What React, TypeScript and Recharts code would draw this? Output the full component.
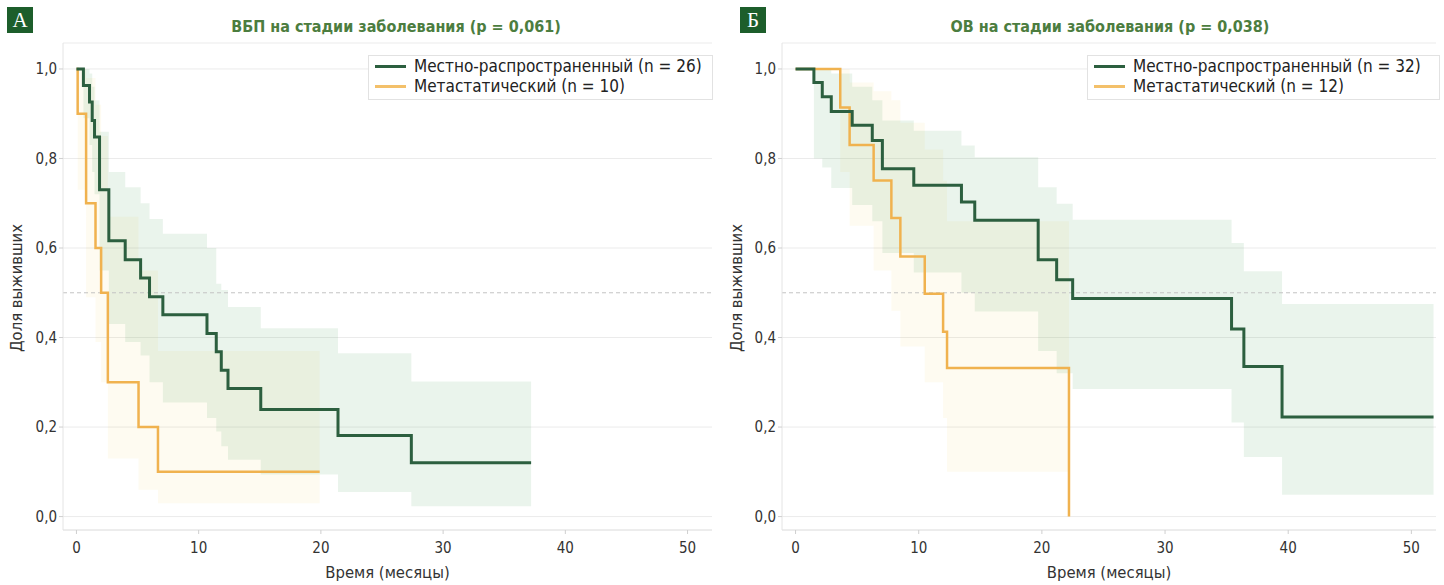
import React from 'react';
import {
  ComposedChart,
  Line,
  Area,
  XAxis,
  YAxis,
  CartesianGrid,
  ReferenceLine,
  Label,
} from 'recharts';

// ---------- Panel A: ВБП (PFS) ----------
const pfsLocTime = [0, 0.57, 1.07, 1.29, 1.48, 1.89, 2.65, 3.99, 5.25, 5.98, 7.07, 10.68, 11.44, 11.85, 12.4, 15.08, 21.4, 27.4, 37.2];
const pfsLocSurv = [1, 0.963, 0.926, 0.885, 0.848, 0.73, 0.616, 0.574, 0.533, 0.491, 0.451, 0.409, 0.368, 0.327, 0.286, 0.239, 0.181, 0.12, 0.12];
const pfsLocLow = [1, 0.89, 0.83, 0.77, 0.72, 0.55, 0.43, 0.39, 0.36, 0.3, 0.255, 0.22, 0.19, 0.157, 0.127, 0.094, 0.055, 0.023, 0.023];
const pfsLocUp = [1, 1, 0.99, 0.96, 0.93, 0.86, 0.77, 0.736, 0.7, 0.665, 0.632, 0.6, 0.52, 0.506, 0.468, 0.421, 0.365, 0.302, 0.302];

const pfsMetTime = [0, 0.1, 0.79, 1.56, 2.02, 2.57, 5.08, 6.67, 19.9];
const pfsMetSurv = [1, 0.9, 0.7, 0.6, 0.5, 0.3, 0.2, 0.1, 0.1];
const pfsMetLow = [1, 0.73, 0.49, 0.39, 0.3, 0.13, 0.06, 0.03, 0.03];
const pfsMetUp = [1, 1, 0.98, 0.92, 0.85, 0.67, 0.55, 0.37, 0.37];

// ---------- Panel Б: ОВ (OS) ----------
const osLocTime = [0, 1.49, 2.17, 2.9, 4.6, 6.23, 7.05, 9.6, 13.47, 14.55, 19.7, 21.2, 22.5, 35.4, 36.4, 39.5, 51.8];
const osLocSurv = [1, 0.97, 0.938, 0.905, 0.874, 0.84, 0.777, 0.74, 0.703, 0.662, 0.574, 0.529, 0.487, 0.419, 0.335, 0.2225, 0.2225];
const osLocLow = [1, 0.8, 0.78, 0.734, 0.696, 0.66, 0.589, 0.545, 0.5, 0.458, 0.37, 0.32, 0.285, 0.21, 0.133, 0.049, 0.049];
const osLocUp = [1, 1, 1, 0.99, 0.96, 0.93, 0.885, 0.862, 0.829, 0.803, 0.736, 0.699, 0.663, 0.611, 0.548, 0.475, 0.475];

const osMetTime = [0, 3.63, 4.39, 6.34, 7.78, 8.51, 10.49, 11.98, 12.3, 22.2];
const osMetSurv = [1, 0.914, 0.83, 0.751, 0.667, 0.581, 0.498, 0.413, 0.332, 0];
const osMetLow = [1, 0.77, 0.65, 0.55, 0.46, 0.38, 0.3, 0.22, 0.1, 0.1];
const osMetUp = [1, 1, 0.97, 0.95, 0.93, 0.88, 0.82, 0.75, 0.66, 0.66];

// ---------- Axes / labels ----------
const xTicks = [0, 10, 20, 30, 40, 50];
const yTicks = [0, 0.2, 0.4, 0.6, 0.8, 1.0];
const titleA = 'ВБП на стадии заболевания (p = 0,061)';
const titleB = 'ОВ на стадии заболевания (p = 0,038)';
const legendA = ['Местно-распространенный (n = 26)', 'Метастатический (n = 10)'];
const legendB = ['Местно-распространенный (n = 32)', 'Метастатический (n = 12)'];
const xLabel = 'Время (месяцы)';
const yLabel = 'Доля выживших';

const GREEN = '#2c5f3f';
const ORANGE = '#f0b24f';
const TITLE_GREEN = '#4c7d3f';
const BOX_GREEN = '#1d5e2b';
const FONT = "'Liberation Sans Narrow', 'DejaVu Sans Condensed', 'Roboto Condensed', sans-serif";

type Pt = { t: number; s: number; band: [number, number] };
function build(t: number[], s: number[], lo: number[], up: number[]): Pt[] {
  return t.map((x, i) => ({ t: x, s: s[i], band: [lo[i], up[i]] as [number, number] }));
}

const fmt = (v: number) => v.toFixed(1).replace('.', ',');

function LegendBox({ labels, left, width }: { labels: string[]; left: number; width: number }) {
  const colors = [GREEN, '#f3c06a'];
  return (
    <div
      style={{
        position: 'absolute',
        left,
        top: 55,
        border: '1px solid #e2e2e2',
        background: '#fff',
        width,
        height: 45,
        boxSizing: 'border-box',
        padding: '0 0 0 6px',
        fontFamily: FONT,
        fontSize: 17,
        color: '#222',
      }}
    >
      {labels.map((lab, i) => (
        <div key={lab} style={{ display: 'flex', alignItems: 'center', height: 20 }}>
          <span style={{ display: 'inline-block', width: 31, height: 3, background: colors[i], marginRight: 8 }} />
          <span style={{ lineHeight: '20px' }}>{lab}</span>
        </div>
      ))}
    </div>
  );
}

type PanelProps = {
  left: number;
  width: number;
  yAxisWidth: number;
  loc: Pt[];
  met: Pt[];
};

function Panel({ left, width, yAxisWidth, loc, met }: PanelProps) {
  return (
    <div style={{ position: 'absolute', left, top: 0 }}>
      <ComposedChart width={width} height={585} margin={{ top: 43, right: 8, bottom: 0, left: 0 }}>
        <CartesianGrid vertical={false} stroke="#ebebeb" />
        <XAxis
          type="number"
          dataKey="t"
          domain={[-1.1, 52]}
          ticks={xTicks}
          allowDataOverflow
          height={55}
          axisLine={{ stroke: '#e4e4e4' }}
          tickLine={{ stroke: '#cfcfcf' }}
          tickSize={4}
          tickMargin={8}
          tick={{ fill: '#333', fontSize: 15, fontFamily: FONT }}
        >
          <Label
            content={(p: any) => {
              const vb = p.viewBox || { x: 0, width: 0 };
              return (
                <text x={vb.x + vb.width / 2} y={578} textAnchor="middle" fill="#333" fontSize={16.5} fontFamily={FONT}>
                  {xLabel}
                </text>
              );
            }}
          />
        </XAxis>
        <YAxis
          type="number"
          domain={[-0.03, 1.058]}
          ticks={yTicks}
          allowDataOverflow
          width={yAxisWidth}
          axisLine={{ stroke: '#e4e4e4' }}
          tickLine={{ stroke: '#cfcfcf' }}
          tickSize={4}
          tickMargin={2}
          tickFormatter={fmt}
          tick={{ fill: '#333', fontSize: 15, fontFamily: FONT }}
        >
          <Label
            content={() => (
              <text
                x={22}
                y={288}
                transform="rotate(-90, 22, 288)"
                textAnchor="middle"
                fill="#333"
                fontSize={16.5}
                fontFamily={FONT}
              >
                {yLabel}
              </text>
            )}
          />
        </YAxis>
        <Area
          data={met}
          dataKey="band"
          type="stepAfter"
          stroke="none"
          fill="#f6cd4a"
          fillOpacity={0.08}
          isAnimationActive={false}
          activeDot={false}
          legendType="none"
        />
        <Area
          data={loc}
          dataKey="band"
          type="stepAfter"
          stroke="none"
          fill="#5eab70"
          fillOpacity={0.13}
          isAnimationActive={false}
          activeDot={false}
          legendType="none"
        />
        <ReferenceLine y={0.5} stroke="#c4c4c4" strokeDasharray="4 3" />
        <Line
          data={met}
          dataKey="s"
          type="stepAfter"
          stroke={ORANGE}
          strokeWidth={2.5}
          dot={false}
          activeDot={false}
          isAnimationActive={false}
        />
        <Line
          data={loc}
          dataKey="s"
          type="stepAfter"
          stroke={GREEN}
          strokeWidth={3}
          dot={false}
          activeDot={false}
          isAnimationActive={false}
        />
      </ComposedChart>
    </div>
  );
}

function Letter({ left, ch }: { left: number; ch: string }) {
  return (
    <div
      style={{
        position: 'absolute',
        left,
        top: 7,
        width: 26,
        height: 26,
        background: BOX_GREEN,
        color: '#fff',
        fontFamily: "'Liberation Serif', 'DejaVu Serif', serif",
        fontSize: 21,
        lineHeight: '26px',
        textAlign: 'center',
      }}
    >
      {ch}
    </div>
  );
}

function Title({ center, text }: { center: number; text: string }) {
  return (
    <div
      style={{
        position: 'absolute',
        left: center - 250,
        width: 500,
        top: 16,
        textAlign: 'center',
        color: TITLE_GREEN,
        fontWeight: 'bold',
        fontFamily: FONT,
        fontSize: 16,
        lineHeight: '22px',
      }}
    >
      {text}
    </div>
  );
}

export default function App() {
  const pfsLoc = build(pfsLocTime, pfsLocSurv, pfsLocLow, pfsLocUp);
  const pfsMet = build(pfsMetTime, pfsMetSurv, pfsMetLow, pfsMetUp);
  const osLoc = build(osLocTime, osLocSurv, osLocLow, osLocUp);
  const osMet = build(osMetTime, osMetSurv, osMetLow, osMetUp);
  return (
    <div style={{ position: 'absolute', left: 0, top: 0, width: 1444, height: 585, background: '#fff', overflow: 'hidden' }}>
      <Panel left={0} width={720} yAxisWidth={63} loc={pfsLoc} met={pfsMet} />
      <Panel left={720} width={724} yAxisWidth={62} loc={osLoc} met={osMet} />
      <LegendBox labels={legendA} left={368} width={345} />
      <LegendBox labels={legendB} left={1087} width={353} />
      <Letter left={7} ch="А" />
      <Letter left={740} ch="Б" />
      <Title center={396} text={titleA} />
      <Title center={1110} text={titleB} />
    </div>
  );
}
